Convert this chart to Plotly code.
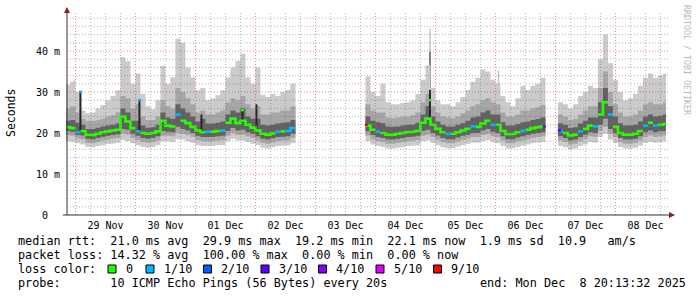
import pandas as pd
import plotly.graph_objects as go

# ---------------- data (ms), 2-hour RRD steps ----------------
STEP = "2h"

seg1_start = "2025-11-28 20:00"
seg1_med = [21.4, 21.2, 20.2, 20.5, 19.6, 19.5, 19.8, 20.2, 20.4, 20.6, 20.8, 24.0, 22.8, 21.2, 20.4, 20.0,
            19.8, 20.0, 20.4, 23.0, 21.8, 21.6, 24.5, 23.0, 22.4, 21.5, 20.6, 20.2, 20.3, 20.3, 20.5, 20.6,
            22.5, 23.5, 22.4, 23.0, 22.0, 21.3, 20.6, 19.8, 19.6, 19.9, 20.3, 20.4, 20.5, 21.2]
seg1_loss = [0, 0, 1, 0, 0, 0, 0, 0, 0, 0, 0, 0, 0, 0, 1, 0,
             0, 0, 0, 0, 0, 0, 1, 0, 0, 0, 0, 0, 1, 0, 0, 1,
             0, 0, 0, 0, 0, 0, 0, 0, 0, 0, 1, 0, 1, 1]
seg1_hi1 = [31.8, 32.5, 30.0, 25.5, 24.8, 25.0, 26.0, 26.8, 28.0, 29.0, 30.4, 38.5, 37.5, 32.0, 34.5, 29.5,
            26.5, 25.8, 28.0, 36.4, 32.0, 33.6, 43.0, 42.0, 36.0, 33.6, 30.4, 31.0, 28.0, 28.5, 29.2, 30.4,
            33.6, 36.0, 37.6, 39.3, 33.6, 32.0, 35.9, 29.3, 28.8, 29.5, 29.0, 30.0, 30.5, 32.0]
seg1_hi2 = [26.0, 26.5, 25.0, 23.5, 23.0, 23.0, 23.2, 23.5, 24.0, 24.3, 25.0, 29.0, 28.5, 26.0, 27.0, 24.0,
            23.2, 23.2, 24.0, 28.0, 26.5, 26.0, 31.0, 30.0, 28.5, 27.0, 25.0, 25.5, 24.5, 24.5, 25.0, 25.5,
            27.5, 28.5, 28.0, 29.0, 27.0, 26.0, 26.5, 24.5, 24.5, 25.0, 25.0, 25.5, 25.5, 26.5]
seg1_hi3 = [23.0, 23.2, 22.5, 22.0, 21.0, 21.0, 21.3, 21.6, 21.8, 22.0, 22.3, 26.0, 25.0, 23.0, 23.0, 21.8,
            21.3, 21.4, 22.0, 25.0, 23.8, 23.5, 27.0, 26.0, 25.0, 24.0, 22.8, 23.5, 22.3, 22.3, 22.5, 22.8,
            24.5, 25.5, 25.0, 26.0, 24.0, 23.5, 23.5, 22.0, 21.8, 22.0, 22.3, 22.5, 22.6, 23.2]
seg1_lo3 = [20.5, 20.3, 19.5, 19.4, 18.6, 18.5, 18.8, 19.1, 19.3, 19.5, 19.7, 21.0, 20.8, 19.8, 19.3, 18.8,
            18.6, 18.8, 19.2, 20.5, 20.3, 20.2, 21.5, 21.0, 20.6, 20.0, 19.3, 19.0, 19.0, 19.0, 19.2, 19.3,
            20.5, 21.2, 20.6, 20.8, 20.2, 19.8, 19.2, 18.6, 18.4, 18.7, 19.0, 19.1, 19.2, 19.8]
seg1_lo2 = [19.5, 19.3, 18.6, 18.5, 17.6, 17.5, 17.8, 18.2, 18.4, 18.6, 18.8, 19.8, 19.6, 18.8, 18.3, 17.8,
            17.6, 17.8, 18.2, 19.3, 19.3, 19.2, 20.0, 19.8, 19.5, 19.0, 18.3, 18.0, 18.0, 18.0, 18.2, 18.3,
            19.3, 20.0, 19.5, 19.6, 19.2, 18.8, 18.2, 17.6, 17.4, 17.7, 18.0, 18.1, 18.2, 18.8]
seg1_lo1 = [18.0, 17.8, 17.5, 17.2, 16.6, 16.5, 16.8, 17.0, 17.3, 17.4, 17.6, 18.3, 18.0, 17.5, 17.0, 16.6,
            16.4, 16.6, 17.0, 18.0, 18.0, 17.8, 18.5, 18.4, 18.0, 17.6, 17.0, 16.8, 16.8, 16.8, 17.0, 17.0,
            18.0, 18.6, 18.2, 18.2, 17.8, 17.4, 17.0, 16.4, 16.2, 16.5, 16.8, 16.9, 17.0, 17.5]

seg2_start = "2025-12-03 20:00"
seg2_med = [21.8, 20.8, 20.3, 20.0, 19.6, 19.6, 19.8, 20.0, 20.2, 20.3, 20.5, 22.5, 23.5, 22.0, 21.0, 20.2,
            19.8, 19.8, 20.2, 20.6, 21.0, 21.6, 21.5, 22.3, 23.0, 22.0, 22.0, 20.5, 19.7, 19.8, 20.2, 20.5,
            20.8, 21.2, 21.4, 21.6]
seg2_loss = [0, 0, 1, 0, 0, 0, 0, 0, 0, 0, 0, 0, 0, 0, 0, 0,
             1, 0, 0, 0, 0, 1, 0, 0, 0, 1, 0, 0, 0, 0, 0, 1,
             0, 0, 0, 0]
seg2_hi1 = [33.8, 30.0, 29.0, 32.0, 27.5, 27.0, 27.0, 27.3, 27.5, 28.0, 29.5, 33.0, 36.5, 31.0, 28.0, 27.0,
            27.0, 26.5, 27.5, 28.8, 30.5, 32.5, 33.5, 35.5, 35.0, 33.0, 32.0, 29.0, 27.5, 26.5, 28.5, 31.5,
            30.5, 31.5, 32.0, 33.5]
seg2_hi2 = [27.0, 25.5, 25.0, 25.0, 23.8, 23.6, 23.8, 24.0, 24.0, 24.3, 25.0, 27.5, 29.5, 26.5, 25.0, 24.0,
            23.8, 23.6, 24.0, 24.8, 25.5, 26.5, 27.0, 28.0, 28.5, 27.5, 27.0, 25.0, 24.0, 24.0, 24.5, 25.5,
            25.5, 26.0, 26.3, 26.8]
seg2_hi3 = [24.0, 23.0, 22.6, 22.4, 21.6, 21.5, 21.6, 21.8, 22.0, 22.1, 22.5, 24.5, 26.5, 24.0, 22.8, 22.0,
            21.6, 21.6, 22.0, 22.4, 23.0, 23.8, 24.0, 25.0, 25.5, 24.5, 24.5, 22.6, 21.8, 21.8, 22.2, 22.6,
            22.8, 23.2, 23.4, 23.8]
seg2_lo3 = [20.4, 19.5, 19.0, 18.8, 18.4, 18.4, 18.6, 18.8, 19.0, 19.1, 19.3, 20.5, 20.8, 20.0, 19.4, 18.8,
            18.5, 18.5, 18.9, 19.3, 19.6, 20.0, 20.0, 20.6, 21.0, 20.3, 20.0, 19.2, 18.5, 18.5, 18.9, 19.2,
            19.5, 19.8, 20.0, 20.2]
seg2_lo2 = [19.4, 18.5, 18.0, 17.8, 17.4, 17.4, 17.6, 17.8, 18.0, 18.1, 18.3, 19.3, 19.6, 19.0, 18.4, 17.8,
            17.5, 17.5, 17.9, 18.3, 18.6, 19.0, 19.0, 19.5, 19.8, 19.2, 19.0, 18.2, 17.5, 17.5, 17.9, 18.2,
            18.5, 18.8, 19.0, 19.2]
seg2_lo1 = [18.0, 17.2, 16.8, 16.6, 16.2, 16.2, 16.4, 16.6, 16.8, 16.9, 17.0, 18.0, 18.2, 17.6, 17.0, 16.5,
            16.3, 16.3, 16.7, 17.0, 17.3, 17.7, 17.6, 18.0, 18.3, 17.8, 17.5, 16.8, 16.2, 16.3, 16.6, 16.9,
            17.2, 17.5, 17.7, 17.8]

seg3_start = "2025-12-07 01:00"
seg3_med = [20.4, 20.0, 19.4, 19.6, 20.4, 21.0, 21.8, 21.6, 24.5, 27.5, 24.5, 21.5, 20.0, 19.6, 19.6, 19.8,
            20.5, 21.8, 22.5, 21.8, 22.0, 22.2]
seg3_loss = [1, 0, 0, 0, 1, 0, 0, 1, 0, 0, 1, 0, 0, 0, 0, 0,
             0, 1, 0, 1, 0, 0]
seg3_hi1 = [27.5, 27.0, 26.0, 27.0, 29.0, 30.0, 31.5, 31.0, 38.0, 44.0, 37.0, 33.0, 30.0, 28.0, 28.5, 29.5,
            31.5, 33.5, 34.5, 33.5, 34.0, 34.5]
seg3_hi2 = [24.5, 24.0, 23.2, 23.5, 24.5, 25.5, 26.5, 26.5, 31.0, 35.0, 30.0, 27.0, 25.0, 24.0, 24.0, 24.5,
            25.5, 27.0, 27.5, 27.0, 27.0, 27.5]
seg3_hi3 = [22.4, 22.0, 21.2, 21.4, 22.3, 23.0, 23.8, 23.8, 27.5, 31.0, 26.5, 24.0, 22.4, 21.8, 21.8, 22.0,
            22.8, 24.0, 24.5, 24.0, 24.2, 24.5]
seg3_lo3 = [19.2, 18.8, 18.2, 18.4, 19.0, 19.6, 20.2, 20.0, 22.0, 23.5, 21.0, 20.0, 18.8, 18.4, 18.4, 18.6,
            19.2, 20.2, 20.6, 20.2, 20.4, 20.5]
seg3_lo2 = [18.2, 17.8, 17.2, 17.4, 18.0, 18.6, 19.2, 19.0, 20.5, 21.5, 19.8, 19.0, 17.8, 17.4, 17.4, 17.6,
            18.2, 19.0, 19.4, 19.0, 19.2, 19.4]
seg3_lo1 = [16.8, 16.5, 16.0, 16.2, 16.8, 17.2, 17.8, 17.6, 19.0, 19.8, 18.4, 17.6, 16.6, 16.2, 16.2, 16.4,
            16.9, 17.6, 17.8, 17.6, 17.8, 18.0]

# thin light-grey spikes (single pings far above the rest)
light_time = ["2025-11-28 23:36", "2025-12-01 02:24", "2025-12-02 00:24", "2025-12-04 02:48",
              "2025-12-04 21:48", "2025-12-06 01:12"]
light_low = [22.0, 21.0, 21.0, 20.0, 24.0, 22.0]
light_top = [33.0, 31.0, 36.0, 32.0, 45.4, 35.2]

# thin mid-grey spikes
mid_time = ["2025-12-04 21:48"]
mid_low = [24.0]
mid_top = [39.8]

# thin dark spikes
dark_time = ["2025-11-29 02:00", "2025-11-30 01:36", "2025-12-01 02:24", "2025-12-01 18:48",
             "2025-12-02 00:24", "2025-12-04 21:48"]
dark_low = [20.5, 20.4, 20.2, 22.5, 20.6, 23.5]
dark_top = [30.0, 28.0, 24.5, 26.0, 27.0, 30.5]

# isolated median marks (value, loss level)
mark_time = ["2025-11-29 02:00", "2025-11-30 01:36", "2025-12-01 18:48", "2025-12-03 20:24",
             "2025-12-04 21:48", "2025-12-06 19:30", "2025-12-07 01:36"]
mark_value = [30.0, 28.0, 25.6, 22.0, 28.0, 21.6, 20.6]
mark_loss = [1, 1, 0, 9, 0, 3, 3]

loss_levels = [0, 1, 2, 3, 4, 5, 9]
loss_labels = ["0", "1/10", "2/10", "3/10", "4/10", "5/10", "9/10"]
loss_colors = ["#26ff00", "#00b8ff", "#0059ff", "#5e00ff", "#7e00ff", "#dd00ff", "#ff0000"]

day_ticks = ["2025-11-29 12:00", "2025-11-30 12:00", "2025-12-01 12:00", "2025-12-02 12:00",
             "2025-12-03 12:00", "2025-12-04 12:00", "2025-12-05 12:00", "2025-12-06 12:00",
             "2025-12-07 12:00", "2025-12-08 12:00"]
day_labels = ["29 Nov", "30 Nov", "01 Dec", "02 Dec", "03 Dec", "04 Dec", "05 Dec", "06 Dec",
              "07 Dec", "08 Dec"]
y_ticks = [0, 10, 20, 30, 40]
y_labels = ["0\u00a0\u00a0", "10 m", "20 m", "30 m", "40 m"]

x_start = "2025-11-28 20:13:32"
x_end = "2025-12-08 20:13:32"

legend_rows = [
    "median rtt:  21.0 ms avg  29.9 ms max  19.2 ms min  22.1 ms now  1.9 ms sd  10.9   am/s",
    "packet loss: 14.32 % avg  100.00 % max  0.00 % min  0.00 % now",
    "loss color:",
    "probe:       10 ICMP Echo Pings (56 Bytes) every 20s",
]
end_text = "end: Mon Dec  8 20:13:32 2025"

# ---------------- layout geometry ----------------
W, H = 697, 297
L, R, T, B = 66, 31, 10, 82
PW, PH = W - L - R, H - T - B
MONO = "DejaVu Sans Mono"


def px(x):
    return (x - L) / PW


def py(y):
    return (H - B - y) / PH


segments = [
    dict(start=seg1_start, med=seg1_med, loss=seg1_loss, hi1=seg1_hi1, hi2=seg1_hi2, hi3=seg1_hi3,
         lo3=seg1_lo3, lo2=seg1_lo2, lo1=seg1_lo1),
    dict(start=seg2_start, med=seg2_med, loss=seg2_loss, hi1=seg2_hi1, hi2=seg2_hi2, hi3=seg2_hi3,
         lo3=seg2_lo3, lo2=seg2_lo2, lo1=seg2_lo1),
    dict(start=seg3_start, med=seg3_med, loss=seg3_loss, hi1=seg3_hi1, hi2=seg3_hi2, hi3=seg3_hi3,
         lo3=seg3_lo3, lo2=seg3_lo2, lo1=seg3_lo1),
]
bands = [("lo1", "hi1", "#cbcbcb"), ("lo2", "hi2", "#a6a6a6"), ("lo3", "hi3", "#626262")]

fig = go.Figure()


def spike_trace(times, lows, tops, color, width):
    xs, ys = [], []
    for t, lo, hi in zip(times, lows, tops):
        xs += [t, t, None]
        ys += [lo, hi, None]
    return go.Scatter(x=xs, y=ys, mode="lines", line=dict(color=color, width=width),
                      hoverinfo="skip", showlegend=False)


# light spikes (under the smoke)
fig.add_trace(spike_trace(light_time, light_low, light_top, "#c4c4c4", 1.5))
fig.add_trace(spike_trace(mid_time, mid_low, mid_top, "#6a6a6a", 1.5))

# smoke bands
for seg in segments:
    n = len(seg["med"])
    t = pd.date_range(seg["start"], periods=n + 1, freq=STEP)
    for lo, hi, col in bands:
        ylo = list(seg[lo]) + [seg[lo][-1]]
        yhi = list(seg[hi]) + [seg[hi][-1]]
        fig.add_trace(go.Scatter(x=t, y=ylo, mode="lines", line=dict(width=0, shape="hv"),
                                 hoverinfo="skip", showlegend=False))
        fig.add_trace(go.Scatter(x=t, y=yhi, mode="lines", line=dict(width=0, shape="hv"),
                                 fill="tonexty", fillcolor=col, hoverinfo="skip", showlegend=False))

# dark spikes
fig.add_trace(spike_trace(dark_time, dark_low, dark_top, "#262626", 2))

# median line coloured by loss
for level, color in zip(loss_levels, loss_colors):
    xs, ys = [], []
    for seg in segments:
        n = len(seg["med"])
        t = pd.date_range(seg["start"], periods=n + 1, freq=STEP)
        for i in range(n):
            if seg["loss"][i] == level:
                xs += [t[i], t[i + 1]]
                ys += [seg["med"][i], seg["med"][i]]
                if not (i + 1 < n and seg["loss"][i + 1] == level):
                    xs.append(None)
                    ys.append(None)
    if xs:
        fig.add_trace(go.Scatter(x=xs, y=ys, mode="lines", line=dict(color=color, width=2.6),
                                 hoverinfo="skip", showlegend=False))

# isolated marks
half = pd.Timedelta(minutes=36)
for level, color in zip(loss_levels, loss_colors):
    xs, ys = [], []
    for t, v, l in zip(mark_time, mark_value, mark_loss):
        if l == level:
            tt = pd.Timestamp(t)
            xs += [tt - half, tt + half, None]
            ys += [v, v, None]
    if xs:
        fig.add_trace(go.Scatter(x=xs, y=ys, mode="lines", line=dict(color=color, width=2.6),
                                 hoverinfo="skip", showlegend=False))

MINOR = "rgba(110,110,110,0.5)"
MAJOR = "rgba(215,60,60,0.6)"
shapes = []
# horizontal grid
for v in range(2, 50, 2):
    major = v % 10 == 0
    shapes.append(dict(type="line", xref="paper", yref="y", x0=px(67), x1=px(669), y0=v, y1=v,
                       line=dict(color=MAJOR if major else MINOR, width=1, dash="1px,2px"), layer="above"))
# vertical grid every 6 h
for t in pd.date_range("2025-11-29 00:00", "2025-12-08 18:00", freq="6h"):
    major = t.hour == 0
    shapes.append(dict(type="line", xref="x", yref="y", x0=t, x1=t, y0=0, y1=49.4,
                       line=dict(color=MAJOR if major else MINOR, width=1, dash="1px,2px"), layer="above"))
# axes
axc = "#303030"
shapes.append(dict(type="line", xref="paper", yref="paper", x0=px(67), x1=px(67), y0=py(215), y1=py(11),
                   line=dict(color=axc, width=1)))
shapes.append(dict(type="line", xref="paper", yref="paper", x0=px(63), x1=px(670), y0=py(215), y1=py(215),
                   line=dict(color=axc, width=1)))
arc = "#8b1c1c"
shapes.append(dict(type="path", xref="paper", yref="paper",
                   path=f"M {px(64)} {py(13)} L {px(70)} {py(13)} L {px(67)} {py(7)} Z",
                   fillcolor=arc, line=dict(color=arc, width=0)))
shapes.append(dict(type="path", xref="paper", yref="paper",
                   path=f"M {px(669)} {py(212)} L {px(669)} {py(218)} L {px(675)} {py(215)} Z",
                   fillcolor=arc, line=dict(color=arc, width=0)))

annotations = []
row_y = [241, 255, 269, 283]
for txt, y in zip(legend_rows, row_y):
    annotations.append(dict(x=px(16), y=py(y), xref="paper", yref="paper", xanchor="left", yanchor="middle",
                            text=txt.replace(" ", "\u00a0"), showarrow=False,
                            font=dict(family=MONO, size=11.8, color="#000")))
annotations.append(dict(x=px(478), y=py(283), xref="paper", yref="paper", xanchor="left", yanchor="middle",
                        text=end_text.replace(" ", "\u00a0"), showarrow=False,
                        font=dict(family=MONO, size=11.8, color="#000")))
# loss colour boxes
box_x = [108, 146, 203.5, 261, 318.5, 376, 433.5]
for bx, lab, col in zip(box_x, loss_labels, loss_colors):
    shapes.append(dict(type="rect", xref="paper", yref="paper", x0=px(bx), x1=px(bx + 8),
                       y0=py(273), y1=py(265), fillcolor=col, line=dict(color="#000", width=1)))
    annotations.append(dict(x=px(bx + 15.5), y=py(269), xref="paper", yref="paper", xanchor="left",
                            yanchor="middle", text=lab, showarrow=False,
                            font=dict(family=MONO, size=11.8, color="#000")))
# axis title
annotations.append(dict(x=px(11), y=py(113), xref="paper", yref="paper", xanchor="center", yanchor="middle",
                        text="Seconds", textangle=-90, showarrow=False,
                        font=dict(family=MONO, size=11.5, color="#000")))
# watermark
annotations.append(dict(x=px(687), y=py(60), xref="paper", yref="paper", xanchor="center", yanchor="middle",
                        text="RRDTOOL / TOBI OETIKER", textangle=90, showarrow=False,
                        font=dict(family=MONO, size=8.3, color="#b8b8b8")))

fig.update_layout(
    width=W, height=H, margin=dict(l=L, r=R, t=T, b=B), autosize=False,
    paper_bgcolor="#ffffff", plot_bgcolor="#ffffff",
    shapes=shapes, annotations=annotations, showlegend=False,
    xaxis=dict(type="date", range=[x_start, x_end], showgrid=False, zeroline=False, showline=False,
               tickmode="array", tickvals=day_ticks, ticktext=day_labels, ticks="",
               ticklabelstandoff=3, tickfont=dict(family=MONO, size=10, color="#000")),
    yaxis=dict(range=[0, 50], showgrid=False, zeroline=False, showline=False,
               tickmode="array", tickvals=y_ticks, ticktext=y_labels, ticks="",
               ticklabelstandoff=5, tickfont=dict(family=MONO, size=10, color="#000")),
)

fig.write_html("out.html")
